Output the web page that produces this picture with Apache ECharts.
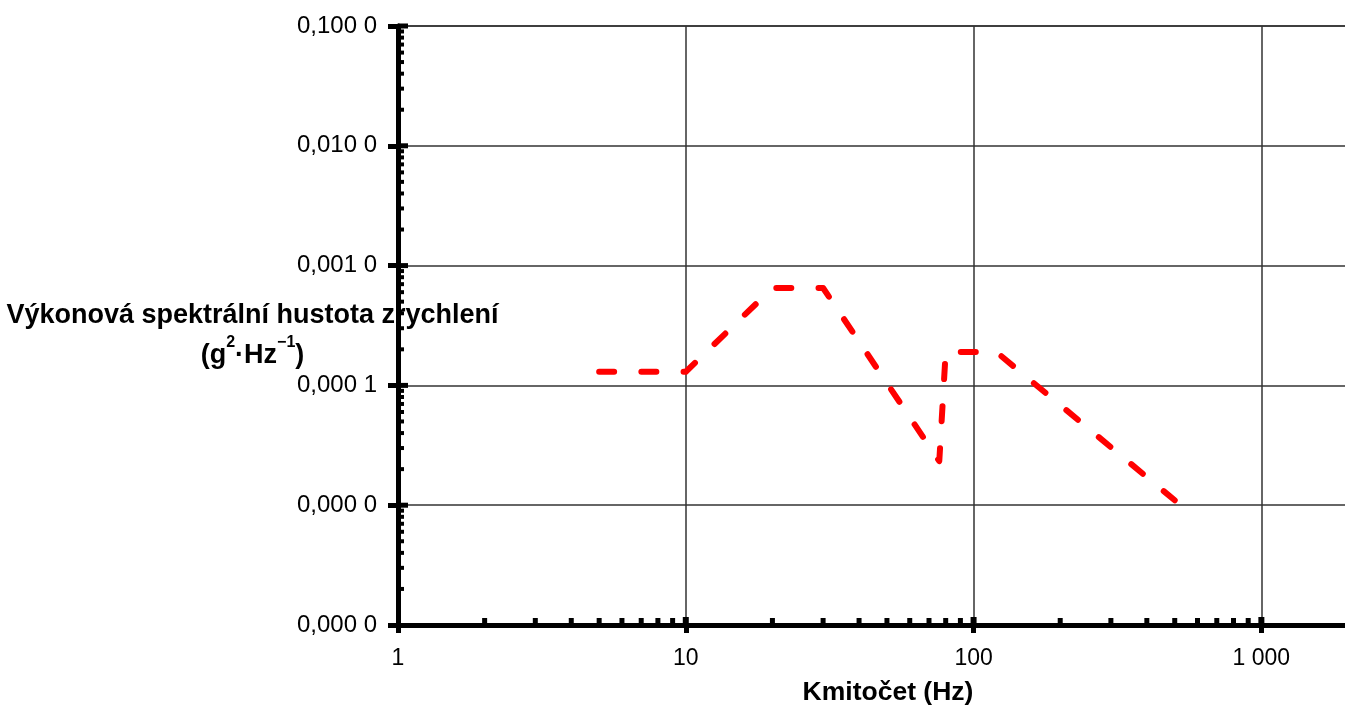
<!DOCTYPE html>
<html>
<head>
<meta charset="utf-8">
<script src="https://cdn.jsdelivr.net/npm/echarts@6/dist/echarts.min.js"></script>
<style>
  html, body { margin: 0; padding: 0; background: #ffffff; }
  #chart { width: 1345px; height: 711px; }
</style>
</head>
<body>
<div id="chart"></div>
<script>
// Acceleration PSD profile (frequency in Hz, PSD in g²/Hz)
const freqHz = [5, 10, 20, 30, 76, 80, 120, 500];
const psdValues = [0.00013, 0.00013, 0.00065, 0.00065, 0.0000233, 0.00019, 0.00019, 0.000011];

// Axis ranges and tick labels
const xRange = [1, 2000];
const yRange = [0.000001, 0.1];
const xTickValues = [1, 10, 100, 1000];
const xTickLabels = ['1', '10', '100', '1 000'];
const yTickValues = [0.000001, 0.00001, 0.0001, 0.001, 0.01, 0.1];
const yTickLabels = ['0,000 0', '0,000 0', '0,000 1', '0,001 0', '0,010 0', '0,100 0'];

// Logarithmic minor tick positions (2..9 of each decade)
const xMinorTicks = [2, 3, 4, 5, 6, 7, 8, 9,
  20, 30, 40, 50, 60, 70, 80, 90,
  200, 300, 400, 500, 600, 700, 800, 900];
const yMinorTicks = [
  0.000002, 0.000003, 0.000004, 0.000005, 0.000006, 0.000007, 0.000008, 0.000009,
  0.00002, 0.00003, 0.00004, 0.00005, 0.00006, 0.00007, 0.00008, 0.00009,
  0.0002, 0.0003, 0.0004, 0.0005, 0.0006, 0.0007, 0.0008, 0.0009,
  0.002, 0.003, 0.004, 0.005, 0.006, 0.007, 0.008, 0.009,
  0.02, 0.03, 0.04, 0.05, 0.06, 0.07, 0.08, 0.09];

const xTitle = 'Kmitočet (Hz)';
const yTitleLine1 = 'Výkonová spektrální hustota zrychlení';

const FONT = 'Liberation Sans, Arial, sans-serif';

function labelFor(values, labels, v) {
  const lv = Math.log10(v);
  for (let i = 0; i < values.length; i++) {
    if (Math.abs(Math.log10(values[i]) - lv) < 1e-6) return labels[i];
  }
  return '';
}

// Inner tick marks: [x, y, length, thickness, axis] drawn with the grid's own scales
const innerTicks = [];
xMinorTicks.forEach(v => innerTicks.push([v, yRange[0], 7, 5, 0]));
xTickValues.slice(1).forEach(v => innerTicks.push([v, yRange[0], 8, 6, 0]));
yMinorTicks.forEach(v => innerTicks.push([xRange[0], v, 5, 4, 1]));
yTickValues.slice(1).forEach(v => innerTicks.push([xRange[0], v, 9, 5, 1]));

const chart = echarts.init(document.getElementById('chart'), null, { renderer: 'canvas' });

chart.setOption({
  animation: false,
  backgroundColor: '#ffffff',
  grid: { left: 398, top: 26, width: 950, height: 599, containLabel: false, outerBoundsMode: 'none' },
  xAxis: {
    type: 'log',
    logBase: 10,
    min: xRange[0],
    max: xRange[1],
    axisLine: { show: true, onZero: false, lineStyle: { color: '#000', width: 5 } },
    axisTick: { show: true, inside: false, length: 8, lineStyle: { color: '#000', width: 5 } },
    minorTick: { show: false },
    axisLabel: {
      margin: 22,
      fontFamily: FONT,
      fontSize: 23,
      color: '#000',
      showMaxLabel: false,
      formatter: v => labelFor(xTickValues, xTickLabels, v)
    },
    splitLine: { show: true, lineStyle: { color: '#333', width: 1.5 } }
  },
  yAxis: {
    type: 'log',
    logBase: 10,
    min: yRange[0],
    max: yRange[1],
    axisLine: { show: true, onZero: false, lineStyle: { color: '#000', width: 5 } },
    axisTick: { show: true, inside: false, length: 10, lineStyle: { color: '#000', width: 5 } },
    minorTick: { show: false },
    axisLabel: {
      margin: 21,
      fontFamily: FONT,
      fontSize: 24,
      color: '#000',
      formatter: v => labelFor(yTickValues, yTickLabels, v)
    },
    splitLine: { show: true, lineStyle: { color: '#333', width: 1.5 } }
  },
  graphic: [
    {
      type: 'text',
      x: 252.5, y: 316,
      z: -10,
      style: {
        text: yTitleLine1,
        align: 'center',
        verticalAlign: 'middle',
        fontFamily: FONT,
        fontWeight: 'bold',
        fontSize: 27,
        fill: '#000'
      }
    },
    {
      type: 'text',
      x: 252.5, y: 352,
      z: -10,
      style: {
        text: '{a|(g}{s|2}{a|·Hz}{s|−1}{a|)}',
        align: 'center',
        verticalAlign: 'middle',
        rich: {
          a: { fontFamily: FONT, fontWeight: 'bold', fontSize: 27, lineHeight: 34, fill: '#000', verticalAlign: 'bottom' },
          s: { fontFamily: FONT, fontWeight: 'bold', fontSize: 16, lineHeight: 16, fill: '#000', verticalAlign: 'top' }
        }
      }
    },
    {
      type: 'text',
      x: 888, y: 693,
      style: {
        text: xTitle,
        align: 'center',
        verticalAlign: 'middle',
        fontFamily: FONT,
        fontWeight: 'bold',
        fontSize: 26.5,
        fill: '#000'
      }
    }
  ],
  series: [
    {
      name: 'PSD',
      type: 'line',
      data: freqHz.map((f, i) => [f, psdValues[i]]),
      symbol: 'none',
      smooth: false,
      z: 5,
      lineStyle: { color: '#ff0000', width: 6, type: [15, 27.2], cap: 'round', join: 'round' }
    },
    {
      name: 'ticks',
      type: 'custom',
      coordinateSystem: 'cartesian2d',
      clip: false,
      silent: true,
      z: 6,
      data: innerTicks,
      renderItem: function (params, api) {
        const p = api.coord([api.value(0), api.value(1)]);
        const len = api.value(2);
        const w = api.value(3);
        const vertical = api.value(4) === 0;
        const shape = vertical
          ? { x: p[0] - w / 2, y: p[1] - len, width: w, height: len }
          : { x: p[0], y: p[1] - w / 2, width: len + 1, height: w };
        return { type: 'rect', shape: shape, style: { fill: '#000' } };
      }
    }
  ]
});
</script>
</body>
</html>
